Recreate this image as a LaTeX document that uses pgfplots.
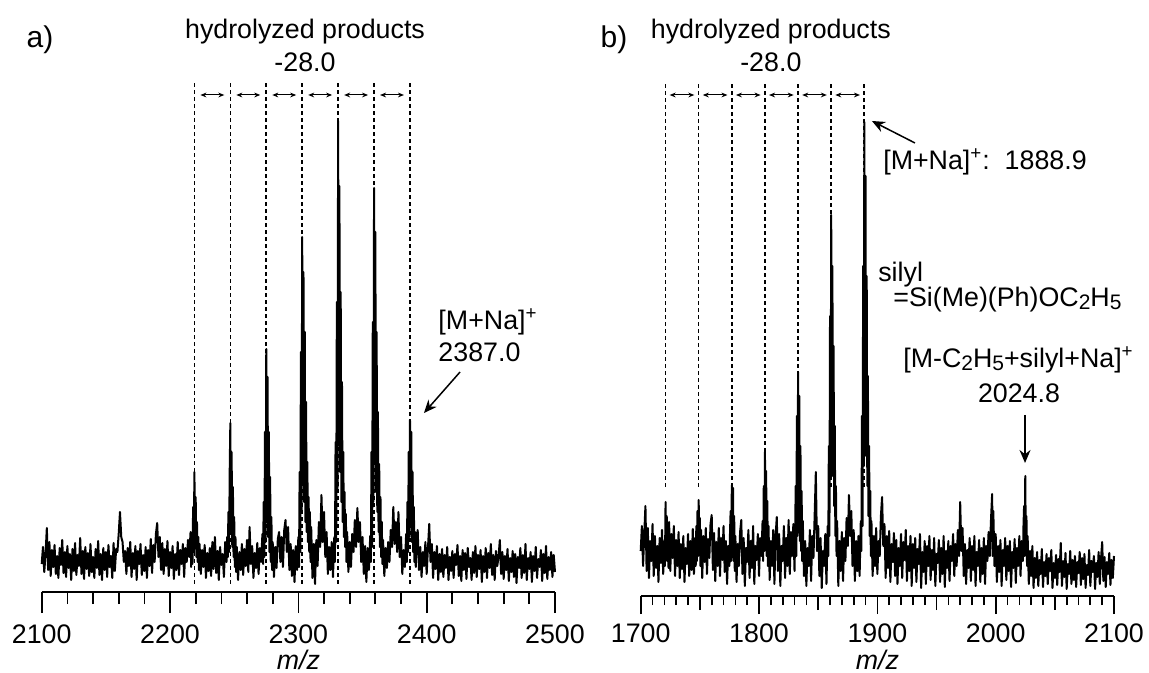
\documentclass[border=0pt]{standalone}
\usepackage{fontspec}
\setmainfont{Liberation Sans}
\usepackage{pgfplots}
\pgfplotsset{compat=1.18}
\usetikzlibrary{arrows.meta}
\newcommand\sub[1]{\raisebox{-0.2ex}{\fontsize{10.5bp}{12bp}\selectfont #1}}
\tikzset{
  dashln/.style={line width=0.8bp, dash pattern=on 2bp off 1.5bp},
  dbl/.style={line width=0.5bp, {Stealth[length=3bp,width=2.4bp]}-{Stealth[length=3bp,width=2.4bp]}},
  big/.style={line width=0.75bp, -{Stealth[length=6.5bp,width=5.5bp]}},
  spectrum/.style={black, line width=1bp, line join=round},
}
\pgfplotsset{
  spec/.style={
    scale only axis, axis y line=none, axis x line*=bottom,
    ymin=0, ymax=512, height=256bp, clip=false,
    tick align=outside,
    x axis line style={line width=0.85bp},
    every tick/.style={line width=0.85bp, black},
    /pgf/number format/1000 sep={},
    /pgf/number format/assume math mode=true,
    xticklabel style={font=\fontsize{13.4bp}{16bp}\selectfont, anchor=north, inner sep=0pt},
  },
}
\begin{document}
\begin{tikzpicture}[font=\fontsize{13.4bp}{16bp}\selectfont]
\useasboundingbox (0,0) rectangle (574.5bp,336.5bp);
% ---------------- panel a ----------------
\begin{axis}[spec, at={(20.85bp,40.5bp)}, anchor=south west, width=256.65bp,
  xmin=2100, xmax=2500, xtick={2100,2200,...,2500}, minor x tick num=4,
  major tick length=10.5bp, minor tick length=6bp,
  xticklabel style={yshift=-5.5bp}]
\draw[dashln] (axis cs:2219,8) -- (axis cs:2219,509);
\draw[dashln] (axis cs:2247,8) -- (axis cs:2247,509);
\draw[dashln] (axis cs:2275,8) -- (axis cs:2275,509);
\draw[dashln] (axis cs:2303,8) -- (axis cs:2303,509);
\draw[dashln] (axis cs:2331,8) -- (axis cs:2331,509);
\draw[dashln] (axis cs:2359,8) -- (axis cs:2359,509);
\draw[dashln] (axis cs:2387,8) -- (axis cs:2387,509);
\draw[dbl] (axis cs:2223.7,497) -- (axis cs:2242.3,497);
\draw[dbl] (axis cs:2251.7,497) -- (axis cs:2270.3,497);
\draw[dbl] (axis cs:2279.7,497) -- (axis cs:2298.3,497);
\draw[dbl] (axis cs:2307.7,497) -- (axis cs:2326.3,497);
\draw[dbl] (axis cs:2335.7,497) -- (axis cs:2354.3,497);
\draw[dbl] (axis cs:2363.7,497) -- (axis cs:2382.3,497);
\addplot[spectrum, mark=none] coordinates {
(2100,28)(2101,45)(2102,20)(2103,38)(2104,64)(2105,22)(2106,50)(2107,16)(2108,42)(2109,25)
(2110,47)(2111,18)(2112,36)(2113,14)(2114,44)(2115,27)(2116,52)(2117,19)(2118,40)(2119,15)
(2120,46)(2121,24)(2122,38)(2123,12)(2124,43)(2125,21)(2126,49)(2127,17)(2128,37)(2129,26)
(2130,54)(2131,18)(2132,41)(2133,13)(2134,45)(2135,23)(2136,39)(2137,16)(2138,48)(2139,20)
(2140,35)(2141,14)(2142,43)(2143,24)(2144,51)(2145,17)(2146,38)(2147,12)(2148,44)(2149,22)
(2150,40)(2151,15)(2152,47)(2153,25)(2154,36)(2155,14)(2156,49)(2157,21)(2158,43)(2159,40)
(2160,58)(2161,80)(2162,55)(2163,50)(2164,30)(2165,41)(2166,18)(2167,44)(2168,26)(2169,50)
(2170,15)(2171,39)(2172,23)(2173,46)(2174,12)(2175,41)(2176,28)(2177,48)(2178,17)(2179,37)
(2180,21)(2181,45)(2182,14)(2183,42)(2184,26)(2185,53)(2186,19)(2187,47)(2188,30)(2189,58)
(2190,69)(2191,35)(2192,55)(2193,22)(2194,49)(2195,18)(2196,43)(2197,26)(2198,51)(2199,16)
(2200,40)(2201,24)(2202,46)(2203,13)(2204,38)(2205,22)(2206,50)(2207,17)(2208,42)(2209,28)
(2210,48)(2211,15)(2212,44)(2213,30)(2214,52)(2215,35)(2216,60)(2216.5,25)(2217,55)(2217.5,28)
(2218,85)(2218.5,40)(2219,120)(2219.5,50)(2220,95)(2220.5,35)(2221,70)(2221.5,30)(2222,55)(2222.5,22)
(2223,48)(2224,18)(2225,42)(2226,25)(2227,47)(2228,14)(2229,39)(2230,21)(2231,44)(2232,16)
(2233,50)(2234,23)(2235,55)(2236,19)(2237,41)(2238,12)(2239,45)(2240,27)(2241,38)(2242,15)
(2243,50)(2244,30)(2244.5,55)(2245,35)(2245.5,80)(2246,40)(2246.5,120)(2247,169)(2247.5,60)(2248,140)
(2248.5,45)(2249,105)(2249.5,35)(2250,75)(2250.5,25)(2251,55)(2251.5,20)(2252,45)(2253,12)(2254,40)
(2255,22)(2256,48)(2257,17)(2258,43)(2259,26)(2260,52)(2261,20)(2262,65)(2263,28)(2264,46)
(2265,14)(2266,39)(2267,24)(2268,49)(2269,18)(2270,44)(2271,30)(2272,58)(2272.5,28)(2273,90)
(2273.5,35)(2274,160)(2274.5,50)(2275,243)(2275.5,70)(2276,215)(2276.5,55)(2277,160)(2277.5,40)(2278,115)
(2278.5,30)(2279,75)(2279.5,22)(2280,50)(2281,15)(2282,45)(2283,24)(2284,53)(2285,60)(2286,30)
(2287,55)(2288,25)(2289,62)(2290,72)(2291,40)(2292,65)(2293,22)(2294,48)(2295,16)(2296,42)
(2297,10)(2298,46)(2299,22)(2300,55)(2300.5,25)(2301,120)(2301.5,40)(2302,240)(2302.5,80)(2303,355)
(2303.5,110)(2304,320)(2304.5,90)(2305,260)(2305.5,70)(2306,190)(2306.5,60)(2307,130)(2307.5,50)(2308,95)
(2308.5,40)(2309,80)(2309.5,30)(2310,65)(2311,14)(2312,48)(2313,8)(2314,52)(2315,26)(2316,70)
(2317,45)(2318,97)(2319,50)(2320,80)(2321,35)(2322,60)(2323,18)(2324,45)(2325,22)(2326,50)
(2327,15)(2328,55)(2328.5,30)(2329,150)(2329.5,50)(2330,290)(2330.5,100)(2331,471)(2331.5,150)(2332,406)
(2332.5,120)(2333,300)(2333.5,90)(2334,210)(2334.5,70)(2335,140)(2335.5,55)(2336,100)(2336.5,45)(2337,78)
(2337.5,30)(2338,60)(2339,20)(2340,50)(2341,25)(2342,58)(2343,40)(2344,72)(2345,45)(2346,84)
(2347,50)(2348,70)(2349,30)(2350,55)(2351,18)(2352,46)(2353,10)(2354,44)(2355,22)(2356,56)
(2356.5,30)(2357,140)(2357.5,45)(2358,270)(2358.5,90)(2359,404)(2359.5,130)(2360,360)(2360.5,100)(2361,260)
(2361.5,80)(2362,180)(2362.5,60)(2363,128)(2363.5,45)(2364,95)(2364.5,35)(2365,70)(2365.5,28)(2366,52)
(2367,16)(2368,44)(2369,24)(2370,50)(2371,30)(2372,62)(2373,45)(2374,85)(2375,48)(2376,70)
(2377,40)(2378,80)(2379,35)(2380,55)(2381,18)(2382,42)(2383,25)(2384,58)(2384.5,30)(2385,90)
(2385.5,40)(2386,140)(2386.5,55)(2387,172)(2387.5,65)(2388,160)(2388.5,50)(2389,120)(2389.5,40)(2390,85)
(2390.5,30)(2391,60)(2391.5,25)(2392,50)(2393,62)(2394,22)(2395,45)(2396,15)(2397,40)(2398,26)
(2399,50)(2400,18)(2401,44)(2402,68)(2403,30)(2404,48)(2405,14)(2406,40)(2407,23)(2408,46)
(2409,12)(2410,38)(2411,20)(2412,43)(2413,15)(2414,37)(2415,24)(2416,45)(2417,12)(2418,35)
(2419,21)(2420,41)(2421,14)(2422,38)(2423,27)(2424,47)(2425,16)(2426,36)(2427,11)(2428,42)
(2429,22)(2430,39)(2431,13)(2432,44)(2433,25)(2434,34)(2435,12)(2436,40)(2437,19)(2438,46)
(2439,15)(2440,37)(2441,23)(2442,42)(2443,10)(2444,36)(2445,20)(2446,44)(2447,14)(2448,39)
(2449,24)(2450,48)(2451,17)(2452,37)(2453,12)(2454,41)(2455,26)(2456,35)(2457,52)(2458,18)
(2459,40)(2460,13)(2461,36)(2462,22)(2463,43)(2464,11)(2465,34)(2466,20)(2467,41)(2468,15)
(2469,38)(2470,9)(2471,35)(2472,24)(2473,44)(2474,14)(2475,37)(2476,19)(2477,48)(2478,12)
(2479,34)(2480,23)(2481,40)(2482,10)(2483,36)(2484,21)(2485,45)(2486,14)(2487,33)(2488,25)
(2489,42)(2490,11)(2491,38)(2492,19)(2493,46)(2494,13)(2495,35)(2496,22)(2497,40)(2498,15)
(2499,37)(2500,20)};
\node at (axis cs:2098.7,552) {\fontsize{15bp}{18bp}\selectfont a)};
\node at (axis cs:2305.2,560) {hydrolyzed products};
\node at (axis cs:2305.2,530) {-28.0};
\node[anchor=west, inner sep=0pt] at (axis cs:2408.9,270) {[M+Na]\textsuperscript{+}};
\node[anchor=west, inner sep=0pt] at (axis cs:2408.9,240) {2387.0};
\draw[big] (axis cs:2426.0,220) -- (axis cs:2397.9,179);
\node[inner sep=0pt] at (axis cs:2300,-68) {\textit{m/z}};
\end{axis}
% ---------------- panel b ----------------
\begin{axis}[spec, at={(320.35bp,38.5bp)}, anchor=south west, width=236.65bp,
  xmin=1700, xmax=2100, xtick={1700,1800,...,2100}, minor x tick num=9,
  major tick length=9bp, minor tick length=4.5bp,
  xticklabel style={yshift=-4.75bp},
  extra x ticks={1750,1850,1950,2050}, extra x tick labels={},
  extra x tick style={major tick length=7bp}]
\draw[dashln] (axis cs:1720.9,109) -- (axis cs:1720.9,513);
\draw[dashln] (axis cs:1748.9,109) -- (axis cs:1748.9,513);
\draw[dashln] (axis cs:1776.9,109) -- (axis cs:1776.9,513);
\draw[dashln] (axis cs:1804.9,109) -- (axis cs:1804.9,513);
\draw[dashln] (axis cs:1832.9,109) -- (axis cs:1832.9,513);
\draw[dashln] (axis cs:1860.9,109) -- (axis cs:1860.9,513);
\draw[dashln] (axis cs:1888.9,109) -- (axis cs:1888.9,513);
\draw[dbl] (axis cs:1724.5,501) -- (axis cs:1745.3,501);
\draw[dbl] (axis cs:1752.5,501) -- (axis cs:1773.3,501);
\draw[dbl] (axis cs:1780.5,501) -- (axis cs:1801.3,501);
\draw[dbl] (axis cs:1808.5,501) -- (axis cs:1829.3,501);
\draw[dbl] (axis cs:1836.5,501) -- (axis cs:1857.3,501);
\draw[dbl] (axis cs:1864.5,501) -- (axis cs:1885.3,501);
\addplot[spectrum, mark=none] coordinates {
(1700,45)(1701,70)(1702,30)(1703,62)(1704,90)(1705,25)(1706,68)(1707,18)(1708,55)(1709,35)
(1710,72)(1711,20)(1712,60)(1713,28)(1714,50)(1715,14)(1716,58)(1717,33)(1718,66)(1719,22)
(1720,55)(1720.5,30)(1721,94)(1721.5,40)(1722,80)(1722.5,35)(1723,65)(1723.5,28)(1724,74)(1725,25)
(1726,62)(1727,38)(1728,70)(1729,20)(1730,56)(1731,30)(1732,64)(1733,18)(1734,52)(1735,27)
(1736,60)(1737,14)(1738,48)(1739,32)(1740,62)(1741,20)(1742,55)(1743,26)(1744,67)(1745,22)
(1746,58)(1746.5,30)(1747,70)(1747.5,35)(1748,85)(1748.5,40)(1749,96)(1749.5,45)(1750,78)(1750.5,30)
(1751,66)(1752,18)(1753,60)(1754,34)(1755,68)(1756,22)(1757,57)(1758,38)(1759,72)(1760,81)
(1761,26)(1762,63)(1763,15)(1764,54)(1765,30)(1766,68)(1767,20)(1768,58)(1769,36)(1770,70)
(1771,24)(1772,55)(1773,12)(1774,50)(1775,30)(1775.5,65)(1776,85)(1776.5,35)(1777,111)(1777.5,40)
(1778,108)(1778.5,35)(1779,80)(1779.5,25)(1780,60)(1781,14)(1782,52)(1783,30)(1784,64)(1785,76)
(1786,22)(1787,58)(1788,10)(1789,48)(1790,34)(1791,66)(1792,18)(1793,55)(1794,28)(1795,70)
(1796,12)(1797,50)(1798,36)(1799,62)(1800,20)(1801,58)(1802,40)(1803,75)(1803.5,35)(1804,110)
(1804.5,45)(1805,144)(1805.5,50)(1806,125)(1806.5,40)(1807,95)(1807.5,30)(1808,70)(1809,16)(1810,55)
(1811,30)(1812,66)(1813,12)(1814,60)(1815,79)(1816,25)(1817,62)(1818,10)(1819,50)(1820,35)
(1821,70)(1822,18)(1823,58)(1824,30)(1825,76)(1826,22)(1827,64)(1828,40)(1829,72)(1830,25)
(1830.5,60)(1831,110)(1831.5,40)(1832,180)(1832.5,60)(1833,224)(1833.5,70)(1834,200)(1834.5,55)(1835,150)
(1835.5,45)(1836,105)(1836.5,35)(1837,75)(1838,20)(1839,55)(1840,10)(1841,48)(1842,30)(1843,66)
(1844,15)(1845,60)(1846,38)(1847,80)(1848,124)(1849,45)(1850,70)(1851,20)(1852,58)(1853,8)
(1854,45)(1855,30)(1856,62)(1857,12)(1858,70)(1858.5,40)(1859,150)(1859.5,60)(1860,280)(1860.5,120)
(1861,381)(1861.5,150)(1862,330)(1862.5,120)(1863,250)(1863.5,90)(1864,170)(1864.5,60)(1865,110)(1865.5,40)
(1866,75)(1867,10)(1868,55)(1869,25)(1870,64)(1871,15)(1872,58)(1873,35)(1874,78)(1875,50)
(1876,101)(1877,60)(1878,85)(1879,30)(1880,66)(1881,15)(1882,55)(1883,25)(1884,60)(1885,20)
(1886,75)(1886.5,45)(1887,180)(1887.5,70)(1888,330)(1888.5,130)(1889,474)(1889.5,170)(1890,420)(1890.5,140)
(1891,320)(1891.5,110)(1892,220)(1892.5,80)(1893,150)(1893.5,60)(1894,105)(1894.5,40)(1895,75)(1896,20)
(1897,60)(1898,30)(1899,68)(1900,22)(1901,55)(1902,40)(1903,80)(1904,99)(1905,50)(1906,72)
(1907,18)(1908,60)(1909,28)(1910,65)(1911,14)(1912,52)(1913,34)(1914,63)(1915,20)(1916,56)
(1917,12)(1918,48)(1919,30)(1920,62)(1921,18)(1922,54)(1923,36)(1924,66)(1925,15)(1926,50)
(1927,25)(1928,60)(1929,10)(1930,52)(1931,28)(1932,58)(1933,14)(1934,47)(1935,32)(1936,62)
(1937,8)(1938,44)(1939,24)(1940,55)(1941,12)(1942,50)(1943,30)(1944,60)(1945,16)(1946,46)
(1947,26)(1948,58)(1949,10)(1950,42)(1951,33)(1952,56)(1953,14)(1954,48)(1955,22)(1956,60)
(1957,9)(1958,45)(1959,28)(1960,55)(1961,15)(1962,50)(1963,35)(1964,62)(1965,20)(1966,52)
(1967,30)(1968,66)(1969,40)(1970,94)(1971,45)(1972,68)(1973,20)(1974,52)(1975,12)(1976,46)
(1977,28)(1978,58)(1979,15)(1980,50)(1981,26)(1982,60)(1983,10)(1984,44)(1985,30)(1986,56)
(1987,14)(1988,48)(1989,22)(1990,58)(1991,12)(1992,50)(1993,35)(1994,64)(1995,40)(1996,75)
(1997,102)(1997.5,40)(1998,85)(1999,30)(2000,62)(2001,14)(2002,50)(2003,24)(2004,56)(2005,10)
(2006,46)(2007,30)(2008,58)(2009,16)(2010,50)(2011,25)(2012,55)(2013,9)(2014,44)(2015,28)
(2016,57)(2017,13)(2018,48)(2019,30)(2020,60)(2021,20)(2022,55)(2023,35)(2023.5,70)(2024,90)
(2024.5,40)(2025,120)(2025.5,45)(2026,80)(2026.5,30)(2027,60)(2028,12)(2029,45)(2030,20)(2031,50)
(2032,8)(2033,38)(2034,18)(2035,44)(2036,10)(2037,36)(2038,22)(2039,47)(2040,9)(2041,34)
(2042,20)(2043,42)(2044,12)(2045,38)(2046,25)(2047,46)(2048,8)(2049,33)(2050,18)(2051,41)
(2052,11)(2053,37)(2054,24)(2055,53)(2056,10)(2057,35)(2058,19)(2059,43)(2060,7)(2061,32)
(2062,22)(2063,45)(2064,12)(2065,36)(2066,16)(2067,40)(2068,9)(2069,34)(2070,23)(2071,44)
(2072,11)(2073,38)(2074,17)(2075,42)(2076,8)(2077,31)(2078,21)(2079,46)(2080,10)(2081,35)
(2082,24)(2083,40)(2084,7)(2085,33)(2086,19)(2087,44)(2088,12)(2089,37)(2090,54)(2091,15)
(2092,39)(2093,9)(2094,34)(2095,22)(2096,43)(2097,11)(2098,36)(2099,18)(2100,40)};
\node at (axis cs:1677.4,556) {\fontsize{15bp}{18bp}\selectfont b)};
\node at (axis cs:1810.0,564) {hydrolyzed products};
\node at (axis cs:1810.0,534) {-28.0};
\node[anchor=west, inner sep=0pt] at (axis cs:1904.7,434) {[M+Na]\textsuperscript{+}:\ \ 1888.9};
\draw[big] (axis cs:1931.8,453) -- (axis cs:1895.4,475);
\node[anchor=west, inner sep=0pt] at (axis cs:1900.5,321) {silyl};
\node[anchor=west, inner sep=0pt] at (axis cs:1913.2,296) {=Si(Me)(Ph)OC\sub{2}H\sub{5}};
\node[anchor=west, inner sep=0pt] at (axis cs:1921.6,236) {[M-C\sub{2}H\sub{5}+silyl+Na]\textsuperscript{+}};
\node at (axis cs:2019.7,203) {2024.8};
\draw[big] (axis cs:2024.8,181) -- (axis cs:2024.8,133);
\node[inner sep=0pt] at (axis cs:1900,-64) {\textit{m/z}};
\end{axis}
\end{tikzpicture}
\end{document}
